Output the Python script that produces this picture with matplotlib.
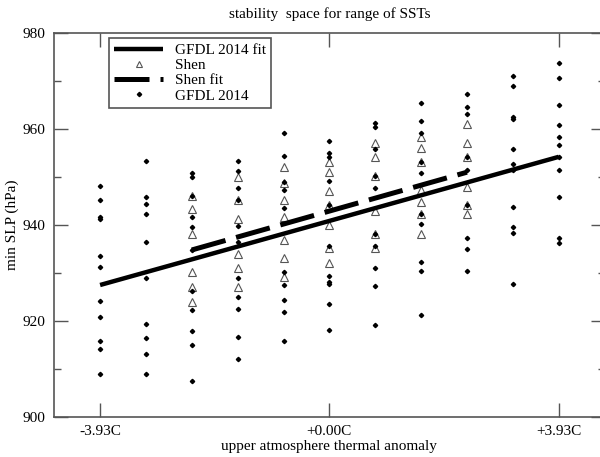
import matplotlib.pyplot as plt
import numpy as np

plt.rcParams['font.family'] = ['Liberation Serif', 'DejaVu Serif']

# column positions of the runs (upper atmosphere thermal anomaly, C)
col_x = [-3.93, -3.144, -2.358, -1.572, -0.786, 0.0, 0.786, 1.572, 2.358, 3.144, 3.93]

# GFDL 2014 min SLP (hPa), one list per column
gfdl = [
    [948.1, 945.2, 941.7, 941.3, 933.5, 931.2, 924.2, 920.8, 915.8, 914.2, 909.0],
    [953.3, 945.8, 944.4, 942.3, 936.5, 929.0, 919.4, 916.5, 913.1, 909.0],
    [950.8, 950.0, 946.0, 941.7, 939.6, 934.8, 926.2, 922.3, 917.9, 915.0, 907.5],
    [953.3, 951.2, 947.7, 945.2, 939.8, 936.5, 929.0, 925.0, 922.5, 916.7, 912.1],
    [959.2, 954.4, 949.0, 947.3, 943.6, 930.2, 927.5, 924.4, 921.9, 915.8],
    [957.5, 955.0, 954.2, 949.2, 944.2, 935.6, 929.4, 928.1, 927.7, 923.5, 918.1],
    [961.2, 960.4, 955.8, 950.2, 947.7, 938.1, 935.6, 931.0, 927.3, 919.2],
    [965.4, 961.7, 959.2, 953.1, 950.8, 942.3, 940.2, 932.3, 930.4, 921.2],
    [967.3, 964.6, 963.1, 954.2, 951.5, 944.2, 937.3, 935.0, 930.4],
    [971.0, 969.0, 962.5, 962.1, 955.8, 952.7, 951.5, 943.8, 939.6, 938.3, 927.7],
    [973.8, 970.6, 965.0, 960.8, 958.3, 956.7, 954.2, 951.5, 945.8, 937.3, 936.2],
]

# Shen min SLP (hPa), columns 2..8
shen_x = [-2.358, -1.572, -0.786, 0.0, 0.786, 1.572, 2.358]
shen = [
    [946.0, 943.3, 938.1, 930.2, 927.1, 924.0],
    [950.0, 945.2, 941.2, 934.0, 931.0, 927.1],
    [952.1, 948.8, 945.2, 941.7, 936.9, 933.1, 929.2],
    [953.1, 951.0, 947.1, 944.2, 940.0, 935.2, 932.1],
    [957.1, 954.2, 950.2, 942.9, 938.1, 935.2],
    [958.3, 956.0, 953.1, 947.3, 944.8, 942.3, 938.1],
    [961.0, 957.1, 954.2, 947.9, 944.2, 942.3],
]

# fit lines (end points)
gfdl_fit_x = [-3.93, 3.93]
gfdl_fit_y = [927.5, 954.2]
shen_fit_x = [-2.358, 2.358]
shen_fit_y = [934.8, 951.0]

x_ticks = [-3.93, 0.0, 3.93]
x_tick_labels = ['-3.93C', '+0.00C', '+3.93C']

fig = plt.figure(figsize=(6.0, 4.57), dpi=100)
ax = fig.add_axes([0.09, 0.0875, 0.918, 0.8403])

gx = np.concatenate([[cx] * len(v) for cx, v in zip(col_x, gfdl)])
gy = np.concatenate(gfdl)
sx = np.concatenate([[cx] * len(v) for cx, v in zip(shen_x, shen)])
sy = np.concatenate(shen)

ax.plot(gfdl_fit_x, gfdl_fit_y, color='black', lw=3.2, solid_capstyle='butt',
        label='GFDL 2014 fit', zorder=3)
ax.plot(sx, sy, ls='none', marker='^', ms=6.3, mfc='none', mec='#555555',
        mew=0.8, label='Shen', zorder=2)
ax.plot(shen_fit_x, shen_fit_y, color='black', lw=3.6, dashes=(7, 2.2),
        dash_capstyle='butt', label='Shen fit', zorder=3)
ax.plot(gx, gy, ls='none', marker='D', ms=2.2, color='black',
        label='GFDL 2014', zorder=4)

ax.set_xlim(-4.72, 4.72)
ax.set_ylim(900, 980)
ax.set_xticks(x_ticks)
ax.set_xticklabels(x_tick_labels)
ax.set_yticks([900, 920, 940, 960, 980])
ax.set_yticks([910, 930, 950, 970], minor=True)

ax.tick_params(which='major', direction='in', length=10, width=1, color='#555555',
               top=True, right=True, labelsize=11, pad=6)
ax.tick_params(which='minor', direction='in', length=5, width=1, color='#555555',
               right=True)
ax.tick_params(axis='x', pad=6)
for s in ax.spines.values():
    s.set_color('#555555')
    s.set_linewidth(1.2)

ax.set_title('stability  space for range of SSTs', fontsize=11, pad=11)
ax.set_xlabel('upper atmosphere thermal anomaly', fontsize=11, labelpad=1)
ax.set_ylabel('min SLP (hPa)', fontsize=11, labelpad=3)

leg = ax.legend(loc='upper left', bbox_to_anchor=(0.0998, 0.987), borderaxespad=0,
                fontsize=11, frameon=True, fancybox=False, framealpha=1,
                edgecolor='#555555', handlelength=3.2, handletextpad=0.75,
                labelspacing=0.1, borderpad=0.35)
leg.get_frame().set_linewidth(1.2)
leg.legend_handles[1].set_markersize(4.8)

fig.savefig('out.png', dpi=100)
